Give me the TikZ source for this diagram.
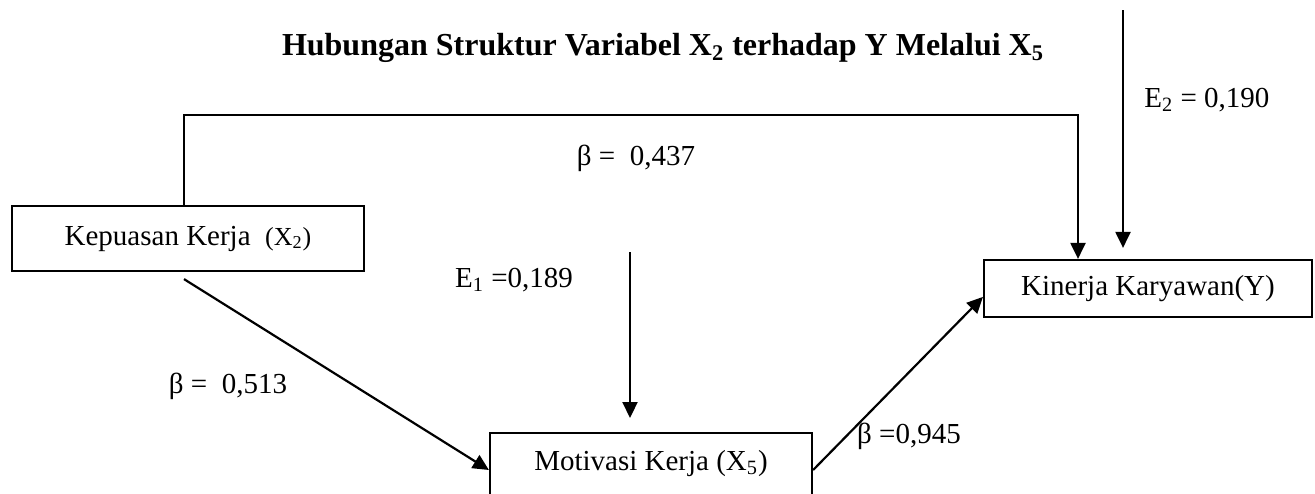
\documentclass[tikz,border=0pt]{standalone}
\usepackage{fontspec}
\setmainfont{Liberation Serif}
\usetikzlibrary{arrows.meta}
\tikzset{
  box/.style={draw, line width=1.1pt, rectangle, inner sep=0pt, font=\fontsize{14.5}{17}\selectfont},
  lbl/.style={inner sep=0pt, font=\fontsize{14.5}{17}\selectfont},
  arr/.style={line width=1.1pt, -{Triangle[length=8pt,width=7.5pt]}},
  ln/.style={line width=1.1pt}
}
\begin{document}
\begin{tikzpicture}[x=0.5pt,y=-0.5pt]
\useasboundingbox (0,0) rectangle (1315,493);
\clip (0,0) rectangle (1315,493);
% title
\node[inner sep=0pt, font=\fontsize{16}{19}\bfseries\selectfont] (title) at (663,48)
  {Hubungan Struktur Variabel X\textsubscript{2} terhadap Y Melalui X\textsubscript{5}};
% boxes
\node[box, minimum width=176pt, minimum height=32.5pt] (kep) at (188,238.5)
  {Kepuasan Kerja\ \ {\fontsize{13}{15}\selectfont (X\textsubscript{2})}};
\node[box, minimum width=164pt, minimum height=28.5pt] (kin) at (1148,288.5)
  {Kinerja Karyawan(Y)};
\node[box, anchor=north, minimum width=161pt, text height=18.5pt, text depth=22pt] (mot) at (651,432)
  {Motivasi Kerja (X\textsubscript{5})};
% coordinates
\coordinate (tl) at (184,115);
\coordinate (tr) at (1078,115);
\coordinate (e2top) at (1123,10);
\coordinate (e1top) at (630,252);
% connectors
\draw[arr] (tl |- kep.north) -- (tl) -- (tr) -- (tr |- kin.north);
\draw[arr] (e2top) -- ([yshift=5.5pt]e2top |- kin.north);
\draw[arr] (e1top) -- ([yshift=7pt]e1top |- mot.north);
\draw[arr] ([yshift=-3.5pt]tl |- kep.south) -- ([yshift=-19pt]mot.north west);
\draw[arr] ([yshift=-19pt]mot.north east) -- ([yshift=-19pt]kin.north west);
% labels
\node[lbl, anchor=west] (e2) at (1144,100) {E\textsubscript{2} = 0,190};
\node[lbl] (b1) at (636,158) {β =\ \ 0,437};
\node[lbl] (e1) at (514,280) {E\textsubscript{1} =0,189};
\node[lbl] (b2) at (228,386) {β =\ \ 0,513};
\node[lbl] (b3) at (909,436) {β =0,945};
\end{tikzpicture}
\end{document}
